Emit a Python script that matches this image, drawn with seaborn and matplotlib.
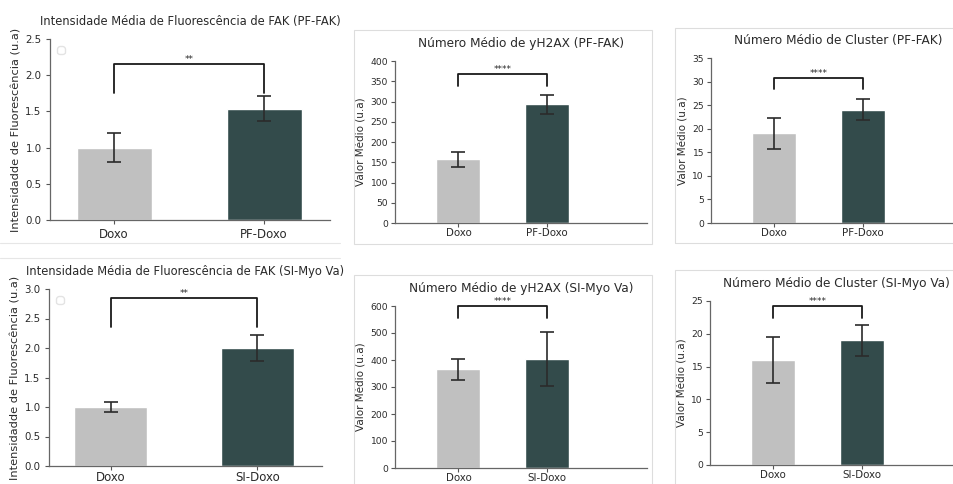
import matplotlib
matplotlib.use("Agg")
import numpy as np
import pandas as pd
import seaborn as sns
from matplotlib import pyplot as plt
from matplotlib.patches import Rectangle
from matplotlib.lines import Line2D

# ---- data ----
groups_pf = ["Doxo", "PF-Doxo"]
groups_si = ["Doxo", "SI-Doxo"]

fak_pf_mean = [1.0, 1.54]
fak_pf_err = [0.20, 0.175]
h2ax_pf_mean = [157, 293]
h2ax_pf_err = [19, 24]
cluster_pf_mean = [19.0, 24.0]
cluster_pf_err = [3.2, 2.2]

fak_si_mean = [1.0, 2.0]
fak_si_err = [0.08, 0.22]
h2ax_si_mean = [365, 403]
h2ax_si_err = [40, 100]
cluster_si_mean = [16.0, 19.0]
cluster_si_err = [3.5, 2.4]

# bracket: (top, leg bottom, label)
brackets = [
    (2.16, 1.76, "**"),
    (367, 338, "****"),
    (30.8, 28.4, "****"),
    (2.85, 2.36, "**"),
    (600, 557, "****"),
    (24.2, 22.4, "****"),
]

titles = [
    "Intensidade Média de Fluorescência de FAK (PF-FAK)",
    "Número Médio de yH2AX (PF-FAK)",
    "Número Médio de Cluster (PF-FAK)",
    "Intensidade Média de Fluorescência de FAK (SI-Myo Va)",
    "Número Médio de yH2AX (SI-Myo Va)",
    "Número Médio de Cluster (SI-Myo Va)",
]
ylabel_fak = "Intensidadde de Fluorescência (u.a)"
ylabel_val = "Valor Médio (u.a)"

colors = ["#c0c0c0", "#2f4f4f"]
txt = "#2a2a2a"

sns.set_style("ticks")
plt.rcParams["font.family"] = ["DejaVu Sans"]
plt.rcParams["text.color"] = txt
plt.rcParams["axes.labelcolor"] = txt
plt.rcParams["xtick.color"] = "#555555"
plt.rcParams["ytick.color"] = "#555555"
plt.rcParams["xtick.labelcolor"] = txt
plt.rcParams["ytick.labelcolor"] = txt

W, H = 954, 484
fig = plt.figure(figsize=(W / 100, H / 100), dpi=100)


def rect(x0, y0, x1, y1):
    return [x0 / W, 1 - y1 / H, (x1 - x0) / W, (y1 - y0) / H]


# axes boxes in pixels (left, top, right, bottom), ylim, xlim, font sizes
big = dict(tick=7.4, xtick=8.5, label=8.2, title=8.3, cap=4.7, pad=3.0)
small = dict(tick=6.6, xtick=7.4, label=7.5, title=8.7, cap=5.0, pad=2.0)
panels = [
    dict(box=(50, 39, 330, 220), ylim=(0, 2.5), xlim=(-0.427, 1.44), yt=np.arange(0, 2.51, 0.5),
         mean=fak_pf_mean, err=fak_pf_err, groups=groups_pf, ylabel=ylabel_fak, fs=big, xpad=2.5, legend=True),
    dict(box=(395, 61, 647, 223), ylim=(0, 400), xlim=(-0.72, 2.14), yt=np.arange(0, 401, 50),
         mean=h2ax_pf_mean, err=h2ax_pf_err, groups=groups_pf, ylabel=ylabel_val, fs=small, xpad=0.8, legend=False),
    dict(box=(711, 58, 965, 223), ylim=(0, 35), xlim=(-0.71, 2.15), yt=np.arange(0, 36, 5),
         mean=cluster_pf_mean, err=cluster_pf_err, groups=groups_pf, ylabel=ylabel_val, fs=small, xpad=0.8, legend=False),
    dict(box=(49, 289, 322, 466), ylim=(0, 3.0), xlim=(-0.42, 1.44), yt=np.arange(0, 3.01, 0.5),
         mean=fak_si_mean, err=fak_si_err, groups=groups_si, ylabel=ylabel_fak, fs=big, xpad=0.5, legend=True),
    dict(box=(395, 306, 647, 468), ylim=(0, 600), xlim=(-0.72, 2.14), yt=np.arange(0, 601, 100),
         mean=h2ax_si_mean, err=h2ax_si_err, groups=groups_si, ylabel=ylabel_val, fs=small, xpad=0.5, legend=False),
    dict(box=(710, 301, 963, 465), ylim=(0, 25), xlim=(-0.71, 2.14), yt=np.arange(0, 26, 5),
         mean=cluster_si_mean, err=cluster_si_err, groups=groups_si, ylabel=ylabel_val, fs=small, xpad=0.8, legend=False),
]

# light frames of the screenshots
frame_kw = dict(fill=False, edgecolor="#dddddd", lw=0.8, transform=fig.transFigure)
for (x0, y0, x1, y1) in [(354, 30, 652, 244), (675, 28, 970, 243), (354, 275, 652, 500), (675, 270, 970, 500)]:
    fig.add_artist(Rectangle((x0 / W, 1 - y1 / H), (x1 - x0) / W, (y1 - y0) / H, **frame_kw))
for y in (243, 258):
    fig.add_artist(Line2D([0, 340 / W], [1 - y / H, 1 - y / H], color="#e6e6e6", lw=0.8,
                          transform=fig.transFigure))

for p, title, (btop, bleg, star) in zip(panels, titles, brackets):
    fs = p["fs"]
    ax = fig.add_axes(rect(*p["box"]))
    df = pd.DataFrame({"grupo": p["groups"], "valor": p["mean"]})
    sns.barplot(data=df, x="grupo", y="valor", hue="grupo", palette=colors, width=0.5,
                legend=False, ax=ax)
    ax.errorbar(x=[0, 1], y=p["mean"], yerr=p["err"], fmt="none", ecolor="#2b2b2b",
                elinewidth=1.2, capsize=fs["cap"], capthick=1.2)
    ax.plot([0, 0, 1, 1], [bleg, btop, btop, bleg], color="#1a1a1a", lw=1.3, clip_on=False)
    ax.text(0.5, btop, star, ha="center", va="bottom", fontsize=6.3, color=txt)

    ax.set_xlim(*p["xlim"])
    ax.set_ylim(*p["ylim"])
    ax.set_yticks(p["yt"])
    if p["yt"][-1] < 10:
        ax.set_yticklabels([f"{v:.1f}" for v in p["yt"]])
    ax.set_xlabel("")
    ax.set_ylabel(p["ylabel"], fontsize=fs["label"], labelpad=3)
    ax.set_title(title, fontsize=fs["title"], pad=10, color=txt)
    ax.tick_params(axis="y", labelsize=fs["tick"], length=3, width=0.8, pad=fs["pad"])
    ax.tick_params(axis="x", labelsize=fs["xtick"], length=3, width=0.8, pad=p["xpad"])
    for s in ("left", "bottom"):
        ax.spines[s].set_color("#666666")
        ax.spines[s].set_linewidth(0.9)
    sns.despine(ax=ax)
    if p["legend"]:
        leg = ax.legend(handles=[], loc="upper left", frameon=True, borderpad=0.3)
        leg.get_frame().set_edgecolor("#dddddd")

fig.savefig("out.png", dpi=100)
